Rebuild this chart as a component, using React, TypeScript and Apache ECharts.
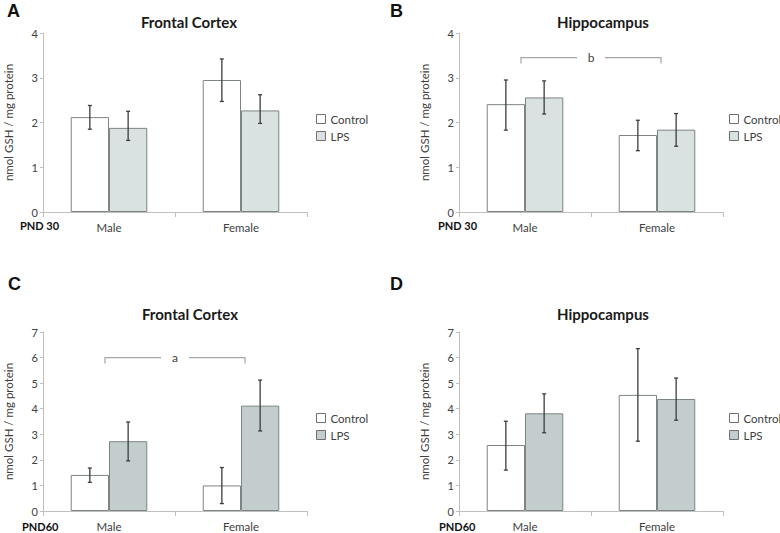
import React, { useEffect, useRef } from "react";
import * as echarts from "echarts";

const categories = ["Male", "Female"];

// Panel A: PND 30 Frontal Cortex
const aCtrl = [2.12, 2.95];
const aCtrlLo = [1.85, 2.47];
const aCtrlHi = [2.38, 3.42];
const aLps = [1.88, 2.27];
const aLpsLo = [1.6, 1.98];
const aLpsHi = [2.25, 2.62];

// Panel B: PND 30 Hippocampus
const bCtrl = [2.41, 1.72];
const bCtrlLo = [1.83, 1.37];
const bCtrlHi = [2.95, 2.05];
const bLps = [2.56, 1.84];
const bLpsLo = [2.19, 1.47];
const bLpsHi = [2.93, 2.2];

// Panel C: PND60 Frontal Cortex
const cCtrl = [1.41, 1.0];
const cCtrlLo = [1.12, 0.29];
const cCtrlHi = [1.68, 1.7];
const cLps = [2.73, 4.12];
const cLpsLo = [1.96, 3.13];
const cLpsHi = [3.48, 5.12];

// Panel D: PND60 Hippocampus
const dCtrl = [2.58, 4.54];
const dCtrlLo = [1.6, 2.73];
const dCtrlHi = [3.51, 6.35];
const dLps = [3.82, 4.38];
const dLpsLo = [3.06, 3.55];
const dLpsHi = [4.58, 5.2];

// Significance brackets: [fromCategory, toCategory, value, label]
const bBracket = [0, 1, 3.45, "b"];
const cBracket = [0, 1, 6.0, "a"];

const panelTitles = ["Frontal Cortex", "Hippocampus", "Frontal Cortex", "Hippocampus"];
const panelLetters = ["A", "B", "C", "D"];
const pndLabels = ["PND 30", "PND 30", "PND60", "PND60"];
const yMaxes = [4, 4, 7, 7];
const yName = "nmol GSH / mg protein";

const FONT = "Lato, 'Open Sans', sans-serif";
const lpsLight = "#d9e1e1";
const lpsDark = "#c3cdcd";
const borderCol = "#7d8484";
const axisCol = "#bfbfbf";
const errCol = "#3c3c3c";

export default function App() {
  const ref = useRef<HTMLDivElement>(null);
  useEffect(() => {
    if (!ref.current) return;
    const chart = echarts.init(ref.current, null, { renderer: "svg" });

    const grids = [
      { left: 43, top: 33, width: 264, height: 179 },
      { left: 459, top: 33, width: 264, height: 179 },
      { left: 43, top: 332, width: 264, height: 179 },
      { left: 459, top: 332, width: 264, height: 179 },
    ];
    const panels = [
      { ctrl: aCtrl, cLo: aCtrlLo, cHi: aCtrlHi, lps: aLps, lLo: aLpsLo, lHi: aLpsHi, col: lpsLight, br: null as any },
      { ctrl: bCtrl, cLo: bCtrlLo, cHi: bCtrlHi, lps: bLps, lLo: bLpsLo, lHi: bLpsHi, col: lpsLight, br: bBracket },
      { ctrl: cCtrl, cLo: cCtrlLo, cHi: cCtrlHi, lps: cLps, lLo: cLpsLo, lHi: cLpsHi, col: lpsDark, br: cBracket },
      { ctrl: dCtrl, cLo: dCtrlLo, cHi: dCtrlHi, lps: dLps, lLo: dLpsLo, lHi: dLpsHi, col: lpsDark, br: null },
    ];

    const xAxis = grids.map((_, i) => ({
      type: "category",
      gridIndex: i,
      data: categories,
      axisLine: { lineStyle: { color: axisCol } },
      axisTick: { show: true, length: 5, lineStyle: { color: axisCol } },
      axisLabel: { fontSize: 11.5, color: "#404040", margin: 9, fontFamily: FONT },
    }));
    const yAxis = grids.map((_, i) => ({
      type: "value",
      gridIndex: i,
      min: 0,
      max: yMaxes[i],
      interval: 1,
      name: yName,
      nameLocation: "middle",
      nameRotate: 90,
      nameGap: 29,
      nameTextStyle: { fontSize: 11.5, color: "#404040", fontFamily: FONT },
      axisLine: { show: true, lineStyle: { color: axisCol } },
      axisTick: { show: true, length: 3, lineStyle: { color: axisCol } },
      splitLine: { show: false },
      axisLabel: { fontSize: 11, color: "#404040", margin: 5, fontFamily: FONT },
    }));

    const errRender = (params: any, api: any) => {
      const c = api.value(0);
      const lo = api.coord([c, api.value(1)]);
      const hi = api.coord([c, api.value(2)]);
      const band = api.size([1, 0])[0];
      const x = lo[0] + api.value(3) * band * 0.145;
      const cap = 2;
      const st = { stroke: errCol, lineWidth: 1.3 };
      return {
        type: "group",
        children: [
          { type: "line", shape: { x1: x, y1: lo[1], x2: x, y2: hi[1] }, style: st },
          { type: "line", shape: { x1: x - cap, y1: lo[1], x2: x + cap, y2: lo[1] }, style: st },
          { type: "line", shape: { x1: x - cap, y1: hi[1], x2: x + cap, y2: hi[1] }, style: st },
        ],
      };
    };

    const bracketRender = (params: any, api: any) => {
      const p0 = api.coord([api.value(0), api.value(2)]);
      const p1 = api.coord([api.value(1), api.value(2)]);
      const x0 = p0[0] - 4;
      const x1 = p1[0] + 4;
      const y = p0[1];
      const xm = (x0 + x1) / 2;
      const gap = 14;
      const st = { stroke: "#a6a6a6", lineWidth: 1.2, fill: "none" };
      return {
        type: "group",
        children: [
          { type: "polyline", shape: { points: [[x0, y + 6], [x0, y], [xm - gap, y]] }, style: st },
          { type: "polyline", shape: { points: [[xm + gap, y], [x1, y], [x1, y + 6]] }, style: st },
          {
            type: "text",
            x: xm,
            y: y,
            style: {
              text: api.value(3),
              fontSize: 12,
              fill: "#404040",
              fontFamily: FONT,
              align: "center",
              verticalAlign: "middle",
            },
          },
        ],
      };
    };

    const series: any[] = [];
    panels.forEach((p, i) => {
      series.push({
        type: "bar",
        name: "Control",
        xAxisIndex: i,
        yAxisIndex: i,
        data: p.ctrl,
        barWidth: "29%",
        barGap: "0%",
        itemStyle: { color: "#ffffff", borderColor: borderCol, borderWidth: 1 },
      });
      series.push({
        type: "bar",
        name: "LPS",
        xAxisIndex: i,
        yAxisIndex: i,
        data: p.lps,
        barWidth: "29%",
        barGap: "0%",
        itemStyle: { color: p.col, borderColor: borderCol, borderWidth: 1 },
      });
      const errData: any[] = [];
      categories.forEach((_, k) => {
        errData.push([k, p.cLo[k], p.cHi[k], -1]);
        errData.push([k, p.lLo[k], p.lHi[k], 1]);
      });
      series.push({
        type: "custom",
        xAxisIndex: i,
        yAxisIndex: i,
        data: errData,
        encode: { x: 0, y: [1, 2] },
        renderItem: errRender,
        z: 5,
        silent: true,
      });
      if (p.br) {
        series.push({
          type: "custom",
          xAxisIndex: i,
          yAxisIndex: i,
          data: [p.br],
          dimensions: ["a", "b", "v", { name: "label", type: "ordinal" }],
          encode: { x: [0, 1], y: 2 },
          renderItem: bracketRender,
          z: 5,
          silent: true,
        });
      }
    });

    const legendPos = [
      { left: 316, top: 113 },
      { left: 729, top: 113 },
      { left: 316, top: 412 },
      { left: 729, top: 412 },
    ];
    const legend = panels.map((p, i) => ({
      orient: "vertical",
      left: legendPos[i].left,
      top: legendPos[i].top,
      padding: 0,
      itemWidth: 9,
      itemHeight: 9,
      itemGap: 5,
      icon: "rect",
      selectedMode: false,
      textStyle: { fontSize: 11.5, color: "#404040", fontFamily: FONT },
      data: [
        { name: "Control", itemStyle: { color: "#ffffff", borderColor: "#707070", borderWidth: 1 } },
        { name: "LPS", itemStyle: { color: p.col, borderColor: "#707070", borderWidth: 1 } },
      ],
    }));

    const titleCenters = [
      [184, 9],
      [598, 9],
      [185, 301],
      [598, 301],
    ];
    const title = panelTitles.map((t, i) => ({
      text: t,
      left: titleCenters[i][0],
      top: titleCenters[i][1],
      textAlign: "center",
      textStyle: { fontSize: 15, fontWeight: "bold", color: "#1a1a1a", fontFamily: FONT },
    }));

    const letterPos = [
      [7, 12],
      [390, 12],
      [8, 285],
      [390, 285],
    ];
    const pndPos = [
      [20, 226],
      [438, 226],
      [22, 527],
      [439, 527],
    ];
    const graphic: any[] = [];
    panelLetters.forEach((l, i) => {
      graphic.push({
        type: "text",
        left: letterPos[i][0],
        top: letterPos[i][1] - 10,
        style: { text: l, fontSize: 18, fontWeight: "bold", fill: "#111", fontFamily: "'Liberation Sans', Arial, sans-serif" },
      });
      graphic.push({
        type: "text",
        left: pndPos[i][0],
        top: pndPos[i][1] - 6,
        style: { text: pndLabels[i], fontSize: 11, fontWeight: "bold", fill: "#111", fontFamily: FONT },
      });
    });

    chart.setOption({
      animation: false,
      backgroundColor: "#ffffff",
      title,
      legend,
      grid: grids,
      xAxis,
      yAxis,
      series,
      graphic,
    });
    return () => chart.dispose();
  }, []);

  return (
    <div
      ref={ref}
      style={{ position: "fixed", left: 0, top: 0, width: 780, height: 533 }}
    />
  );
}
